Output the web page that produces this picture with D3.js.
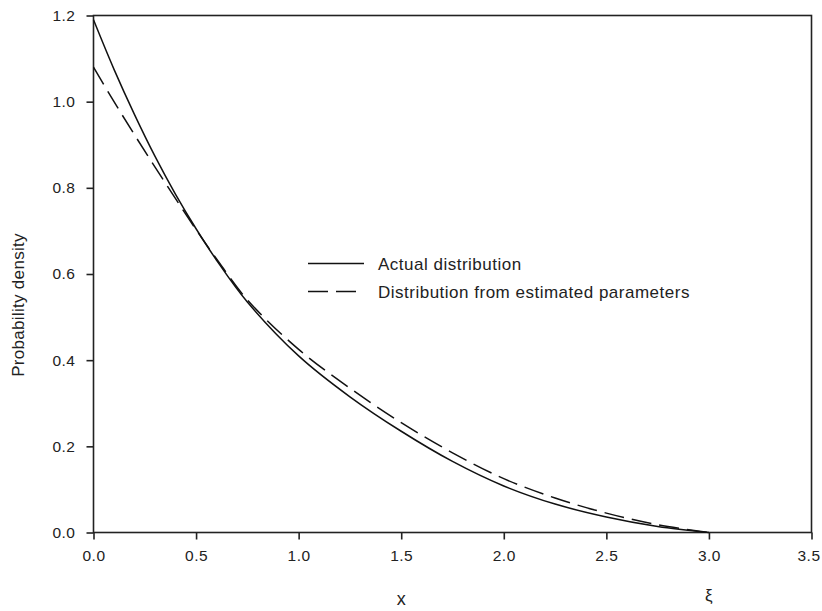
<!DOCTYPE html>
<html>
<head>
<meta charset="utf-8">
<script src="https://cdn.jsdelivr.net/npm/d3@7"></script>
<style>
	body { margin: 0; background: #fff; }
	text { font-family: "Liberation Sans", Arial, sans-serif; fill: #222; }
</style>
</head>
<body>
<div id="container"></div>
<script>
var xs = [0, 0.1, 0.2, 0.3, 0.4, 0.5, 0.6, 0.75, 1.0, 1.25, 1.5, 1.75, 2.0, 2.25, 2.5, 2.75, 3.0];
// Actual distribution
var actual = [1.19, 1.075, 0.97, 0.873, 0.785, 0.705, 0.632, 0.535, 0.41, 0.315, 0.235, 0.165, 0.108, 0.066, 0.036, 0.014, 0.0];
// Distribution from estimated parameters
var estimated = [1.08, 1.0, 0.923, 0.848, 0.775, 0.703, 0.635, 0.54, 0.425, 0.335, 0.255, 0.185, 0.125, 0.08, 0.045, 0.018, 0.0];

var xTicks = [0, 0.5, 1.0, 1.5, 2.0, 2.5, 3.0, 3.5];
var yTicks = [0, 0.2, 0.4, 0.6, 0.8, 1.0, 1.2];
var legendLabels = ["Actual distribution", "Distribution from estimated parameters"];

function makeChart(){
	var w = 822, h = 611;
	var left = 93.5, right = 811.5, top = 15.5, bottom = 532.5;

	var svg = d3.select('#container')
		.append("svg")
		.attr("width", w)
		.attr("height", h);

	var x = d3.scaleLinear().domain([0, 3.5]).range([left, right]);
	var y = d3.scaleLinear().domain([0, 1.2]).range([bottom, top]);

	//Frame
	svg.append("rect")
		.attr("x", left)
		.attr("y", top)
		.attr("width", right - left)
		.attr("height", bottom - top)
		.attr("fill", "none")
		.attr("stroke", "#222")
		.attr("stroke-width", 1.6);

	var xAxis = svg.append("g")
		.attr("transform", "translate(0," + bottom + ")")
		.call(d3.axisBottom(x).tickValues(xTicks).tickFormat(d3.format(".1f")).tickSize(7).tickPadding(10));
	var yAxis = svg.append("g")
		.attr("transform", "translate(" + left + ",0)")
		.call(d3.axisLeft(y).tickValues(yTicks).tickFormat(d3.format(".1f")).tickSize(7).tickPadding(11));

	[xAxis, yAxis].forEach(function(a){
		a.select(".domain").remove();
		a.selectAll("line").attr("stroke", "#222").attr("stroke-width", 1.6);
		a.selectAll("text")
			.attr("font-size", "15.5px")
			.attr("letter-spacing", "0.5px")
			.attr("fill", "#222");
	});

	//last label sits on the page edge, nudge it inside
	xAxis.selectAll(".tick text")
		.filter(function(d){ return d == 3.5; })
		.attr("dx", -3);

	var line = d3.line()
		.x(function(d, i){ return x(xs[i]); })
		.y(function(d){ return y(d); })
		.curve(d3.curveCatmullRom.alpha(0.5));

	svg.append("path")
		.attr("d", line(actual))
		.attr("fill", "none")
		.attr("stroke", "#111")
		.attr("stroke-width", 1.5);

	svg.append("path")
		.attr("d", line(estimated))
		.attr("fill", "none")
		.attr("stroke", "#111")
		.attr("stroke-width", 1.5)
		.attr("stroke-dasharray", "20,8");

	//Legend
	var legend = svg.selectAll(".legend")
		.data(legendLabels)
		.enter()
		.append("g")
		.attr("transform", function(d, i){ return "translate(308," + (263.5 + i * 28) + ")"; });

	legend.append("line")
		.attr("x1", 0)
		.attr("x2", 56)
		.attr("stroke", "#111")
		.attr("stroke-width", 1.5)
		.attr("stroke-dasharray", function(d, i){ return i == 1 ? "20,8" : null; });

	legend.append("text")
		.attr("x", 70)
		.attr("y", 6.5)
		.attr("font-size", "17px")
		.attr("letter-spacing", "0.5px")
		.text(function(d){ return d; });

	//Axis titles
	svg.append("text")
		.attr("x", x(1.5))
		.attr("y", 605)
		.attr("text-anchor", "middle")
		.attr("font-size", "18px")
		.text("x");

	svg.append("text")
		.attr("x", x(3.0))
		.attr("y", 601)
		.attr("text-anchor", "middle")
		.attr("font-size", "17px")
		.text("ξ");

	svg.append("text")
		.attr("transform", "translate(24,305) rotate(-90)")
		.attr("text-anchor", "middle")
		.attr("font-size", "17px")
		.attr("letter-spacing", "0.3px")
		.text("Probability density");
}

makeChart();
</script>
</body>
</html>
